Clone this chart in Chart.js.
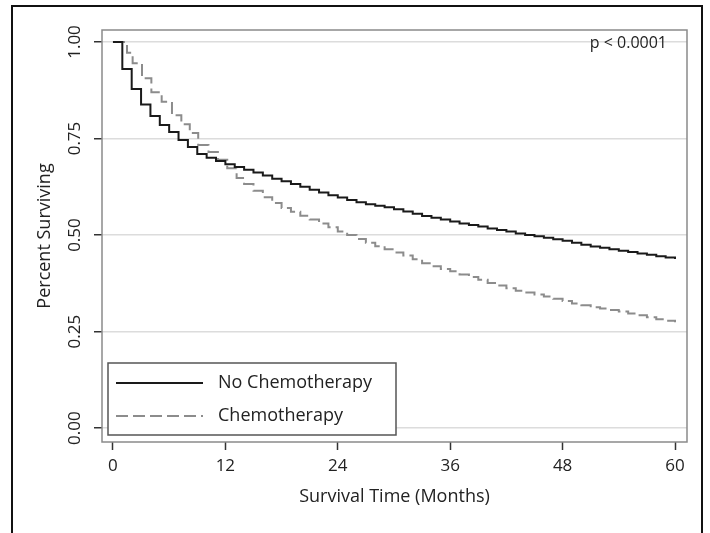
<!DOCTYPE html>
<html>
<head>
<meta charset="utf-8">
<script src="https://cdn.jsdelivr.net/npm/chart.js@4/dist/chart.umd.min.js"></script>
<style>
    html, body { margin: 0; padding: 0; background: #fff; overflow: hidden; }
    #wrap { position: relative; width: 710px; height: 533px; }
    #frame { position: absolute; left: 11px; top: 5px; width: 692px; height: 560px; border: 2px solid #111; box-sizing: border-box; pointer-events: none; }
    canvas { position: absolute; left: 0; top: 0; }
</style>
</head>
<body>
<div id="wrap">
    <canvas id="kmChart" width="710" height="533"></canvas>
    <div id="frame"></div>
</div>
<script>
// Survival data (months, proportion surviving)
const noChemoMonths = [0, 1, 2, 3, 4, 5, 6, 7, 8, 9, 10, 11, 12, 13, 14, 15, 16, 17, 18, 19, 20,
    21, 22, 23, 24, 25, 26, 27, 28, 29, 30, 31, 32, 33, 34, 35, 36, 37, 38, 39, 40,
    41, 42, 43, 44, 45, 46, 47, 48, 49, 50, 51, 52, 53, 54, 55, 56, 57, 58, 59, 60];
const noChemoSurv = [1.0, 0.93, 0.878, 0.838, 0.808, 0.785, 0.767, 0.746, 0.728, 0.71, 0.70,
    0.692, 0.683, 0.676, 0.669, 0.662, 0.654, 0.646, 0.639, 0.632, 0.625,
    0.617, 0.610, 0.603, 0.597, 0.591, 0.585, 0.580, 0.576, 0.572, 0.567,
    0.561, 0.555, 0.549, 0.545, 0.540, 0.535, 0.530, 0.526, 0.522, 0.517,
    0.513, 0.509, 0.504, 0.500, 0.497, 0.493, 0.489, 0.485, 0.480, 0.475,
    0.470, 0.467, 0.463, 0.459, 0.456, 0.452, 0.449, 0.445, 0.442, 0.438];

const chemoMonths = [0, 1.5, 2.1, 3.1, 4.1, 5.2, 6.3, 7.3, 8.2, 9.1, 10.2, 11.2, 12.2, 13.2, 14, 15, 16, 17, 18, 19, 20,
    21, 22, 23, 24, 25, 26, 27, 28, 29, 30, 31, 32, 33, 34, 35, 36, 37, 38, 39, 40,
    41, 42, 43, 44, 45, 46, 47, 48, 49, 50, 51, 52, 53, 54, 55, 56, 57, 58, 59, 60];
const chemoSurv = [1.0, 0.972, 0.945, 0.906, 0.87, 0.845, 0.81, 0.787, 0.764, 0.733, 0.715, 0.695, 0.673, 0.648, 0.632,
    0.615, 0.598, 0.583, 0.570, 0.560, 0.550, 0.540, 0.530, 0.520, 0.509,
    0.500, 0.490, 0.480, 0.471, 0.463, 0.455, 0.447, 0.437, 0.427, 0.419,
    0.412, 0.406, 0.398, 0.391, 0.384, 0.376, 0.369, 0.362, 0.356, 0.351,
    0.346, 0.341, 0.335, 0.329, 0.323, 0.318, 0.313, 0.310, 0.306, 0.302,
    0.297, 0.292, 0.287, 0.282, 0.278, 0.274];

const xTicks = [0, 12, 24, 36, 48, 60];
const yTicks = [0, 0.25, 0.5, 0.75, 1.0];
const seriesLabels = ['No Chemotherapy', 'Chemotherapy'];
const pValueText = 'p < 0.0001';

const FONT = '"Open Sans", "DejaVu Sans", sans-serif';
const TEXT_COLOR = '#222';

// Build {x, y} points for a step curve
function toPoints(months, surv) {
    return months.map((m, i) => ({ x: m, y: surv[i] }));
}

// Rotated y tick labels, plot border, p-value and the boxed legend
const decorPlugin = {
    id: 'decor',
    afterDraw(chart) {
        const ctx = chart.ctx;
        const area = chart.chartArea;
        const yScale = chart.scales.y;

        // plot region border
        ctx.save();
        ctx.strokeStyle = '#8a8a8a';
        ctx.lineWidth = 1.5;
        ctx.strokeRect(area.left, area.top, area.right - area.left, area.bottom - area.top);
        ctx.restore();

        // y tick labels, rotated like the original
        ctx.save();
        ctx.fillStyle = TEXT_COLOR;
        ctx.font = '17px ' + FONT;
        ctx.textAlign = 'center';
        ctx.textBaseline = 'middle';
        yScale.ticks.forEach(t => {
            const py = yScale.getPixelForValue(t.value);
            ctx.save();
            ctx.translate(75, py);
            ctx.rotate(-Math.PI / 2);
            ctx.fillText(t.value.toFixed(2), 0, 0);
            ctx.restore();
        });
        ctx.restore();

        // p-value
        ctx.save();
        ctx.fillStyle = TEXT_COLOR;
        ctx.font = '16px ' + FONT;
        ctx.textAlign = 'right';
        ctx.textBaseline = 'middle';
        ctx.fillText(pValueText, area.right - 20, 43);
        ctx.restore();

        // legend box
        const box = { x: 108, y: 363, w: 288, h: 72 };
        ctx.save();
        ctx.fillStyle = '#fff';
        ctx.fillRect(box.x, box.y, box.w, box.h);
        ctx.strokeStyle = '#555';
        ctx.lineWidth = 1.5;
        ctx.strokeRect(box.x, box.y, box.w, box.h);
        chart.data.datasets.forEach((ds, i) => {
            const ly = box.y + 20 + i * 33;
            ctx.strokeStyle = ds.borderColor;
            ctx.lineWidth = ds.borderWidth;
            ctx.setLineDash(ds.borderDash || []);
            ctx.beginPath();
            ctx.moveTo(116, ly);
            ctx.lineTo(203, ly);
            ctx.stroke();
            ctx.setLineDash([]);
            ctx.fillStyle = TEXT_COLOR;
            ctx.font = '18px ' + FONT;
            ctx.textAlign = 'left';
            ctx.textBaseline = 'middle';
            ctx.fillText(ds.label, 218, ly);
        });
        ctx.restore();
    }
};

document.addEventListener('DOMContentLoaded', function() {
    const ctx = document.getElementById('kmChart');

    new Chart(ctx, {
        type: 'line',
        data: {
            datasets: [
                {
                    label: seriesLabels[0],
                    data: toPoints(noChemoMonths, noChemoSurv),
                    borderColor: '#1a1a1a',
                    borderWidth: 2,
                    stepped: 'before',
                    pointRadius: 0,
                    fill: false
                },
                {
                    label: seriesLabels[1],
                    data: toPoints(chemoMonths, chemoSurv),
                    borderColor: '#8c8c8c',
                    borderWidth: 2,
                    borderDash: [12, 5],
                    stepped: 'before',
                    pointRadius: 0,
                    fill: false
                }
            ]
        },
        options: {
            responsive: false,
            animation: false,
            devicePixelRatio: 1,
            layout: {
                padding: { left: 0, top: 30, right: 23, bottom: 0 }
            },
            scales: {
                x: {
                    type: 'linear',
                    min: -1.17,
                    max: 61.28,
                    afterBuildTicks: scale => { scale.ticks = xTicks.map(v => ({ value: v })); },
                    afterFit: scale => { scale.height = 91; },
                    grid: {
                        drawOnChartArea: false,
                        drawTicks: true,
                        tickLength: 8,
                        tickColor: '#333',
                        tickWidth: 1.5
                    },
                    border: { display: false },
                    ticks: {
                        padding: 6,
                        color: TEXT_COLOR,
                        maxRotation: 0,
                        font: { family: FONT, size: 17 }
                    },
                    title: {
                        display: true,
                        text: 'Survival Time (Months)',
                        color: TEXT_COLOR,
                        font: { family: FONT, size: 18 },
                        padding: { top: 0, bottom: 25 }
                    }
                },
                y: {
                    type: 'linear',
                    min: -0.036,
                    max: 1.031,
                    afterBuildTicks: scale => { scale.ticks = yTicks.map(v => ({ value: v })); },
                    afterFit: scale => { scale.width = 102; },
                    grid: {
                        color: '#dcdcdc',
                        lineWidth: 1.5,
                        drawTicks: true,
                        tickLength: 8,
                        tickColor: '#333',
                        tickWidth: 1.5
                    },
                    border: { display: false },
                    ticks: { display: false },
                    title: {
                        display: true,
                        text: 'Percent Surviving',
                        color: TEXT_COLOR,
                        font: { family: FONT, size: 18 },
                        padding: { top: 34, bottom: 0 }
                    }
                }
            },
            plugins: {
                legend: { display: false },
                tooltip: { enabled: false }
            }
        },
        plugins: [decorPlugin]
    });
});
</script>
</body>
</html>
